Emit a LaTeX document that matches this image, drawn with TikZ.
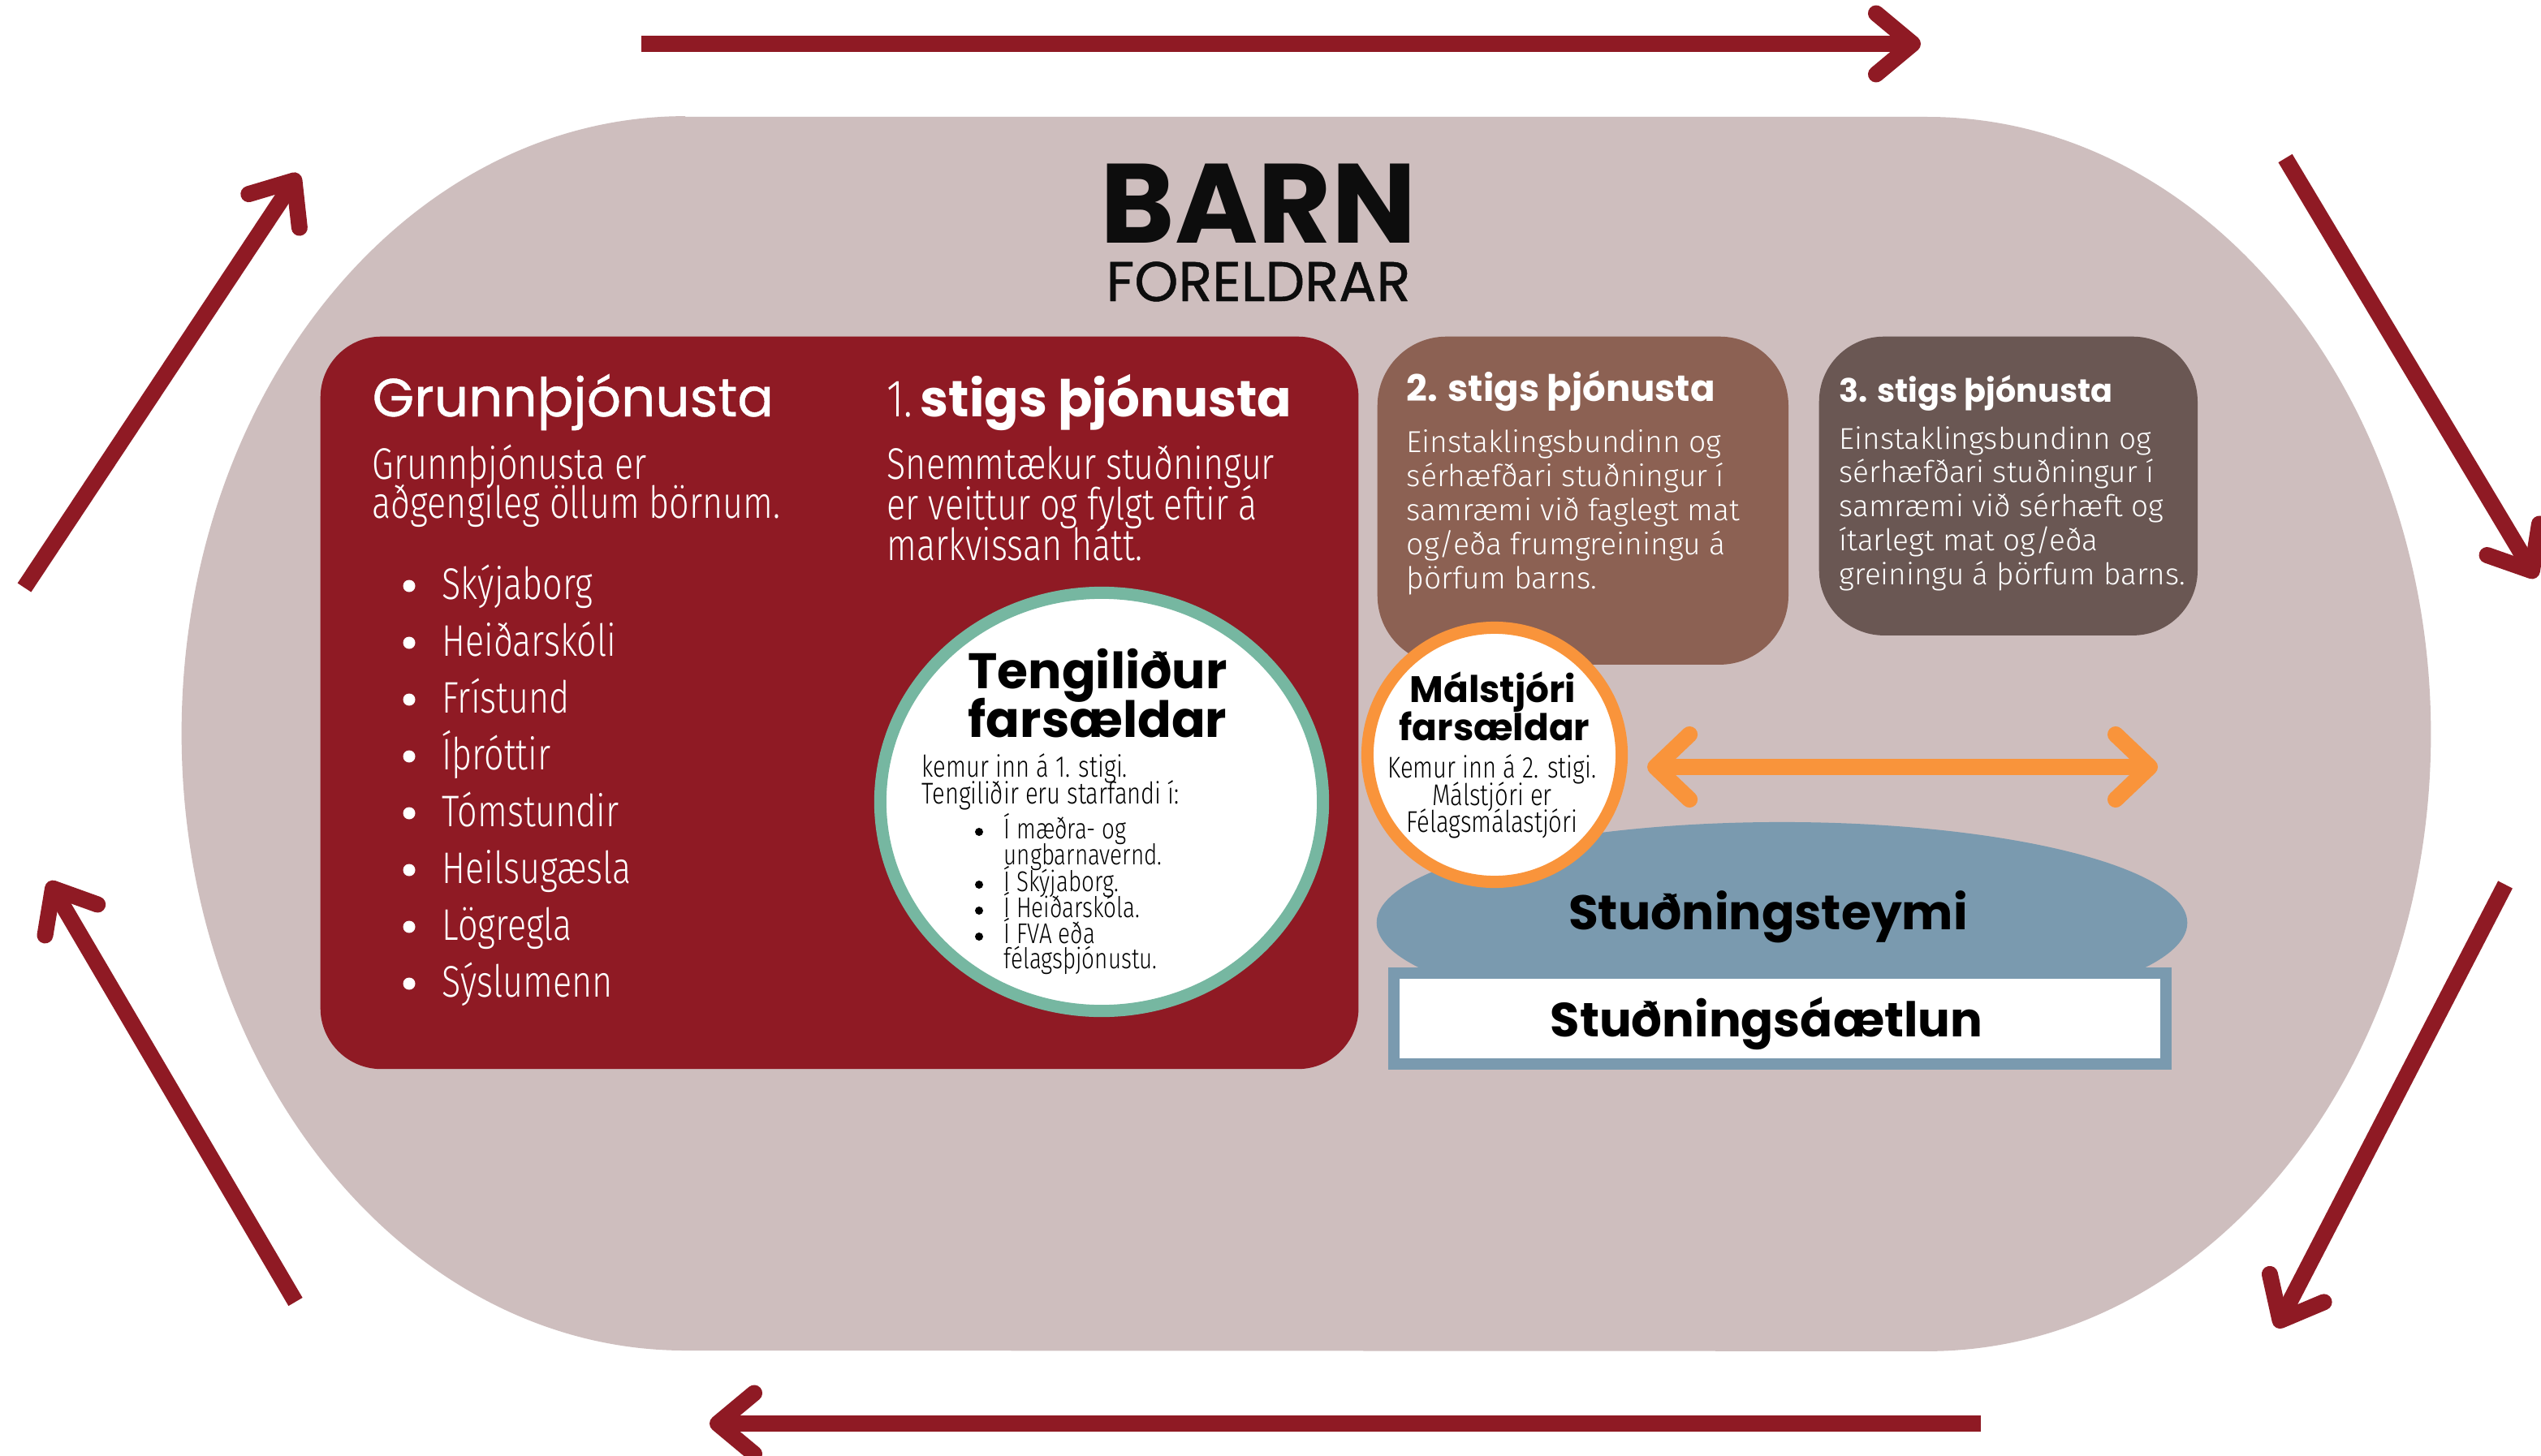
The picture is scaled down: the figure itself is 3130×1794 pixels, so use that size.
\documentclass[tikz,border=0pt]{standalone}
\usepackage{fontspec}
\setmainfont{Fira Sans}
\newfontfamily\cond{Fira Sans Light}[FakeStretch=0.79]
\newfontfamily\plainl{Fira Sans Light}
\newfontfamily\pop{Poppins}
\newfontfamily\popm{Poppins}[FakeBold=0.7]
\usetikzlibrary{arrows.meta,shapes.geometric}
\definecolor{bgc}{HTML}{CEBEBE}
\definecolor{redc}{HTML}{8F1A24}
\definecolor{brownc}{HTML}{8C6153}
\definecolor{darkc}{HTML}{6A5753}
\definecolor{tealc}{HTML}{76B7A1}
\definecolor{orangec}{HTML}{F9943B}
\definecolor{bluec}{HTML}{7A9AAF}
\tikzset{
  wtxt/.style={inner sep=0pt, anchor=base west, text=white, text height=0.72em, text depth=0.14em},
  btxt/.style={inner sep=0pt, anchor=base west, text=black, text height=0.72em, text depth=0.14em},
  ctxt/.style={inner sep=0pt, anchor=base, text=black, text height=0.72em, text depth=0.14em},
  panel/.style={inner sep=0pt, anchor=north west},
  redarrow/.style={draw=redc, line width=0.2cm, -{Straight Barb[length=0.45cm,width=0.75cm,round]}},
  wbul/.style={circle, fill=white, inner sep=0pt, minimum size=0.15cm},
  bbul/.style={circle, fill=black, inner sep=0pt, minimum size=0.1cm},
}
\begin{document}
\begin{tikzpicture}[x=0.01cm,y=-0.01cm]
\useasboundingbox (0,0) rectangle (3130,1794);
\fill[white] (0,0) rectangle (3130,1794);

% background stadium
\fill[bgc] (844,144) -- (2374,144) arc[start angle=90,end angle=-90,x radius=6.2cm,y radius=7.6cm]
  -- (844,1664) arc[start angle=270,end angle=90,x radius=6.2cm,y radius=7.6cm] -- cycle;

% cycle arrows
\coordinate (a1s) at (790,54);   \coordinate (a1e) at (2366,54);
\coordinate (a2s) at (2815,195); \coordinate (a2e) at (3124,712);
\coordinate (a3s) at (3086,1090);\coordinate (a3e) at (2804,1636);
\coordinate (a4s) at (2440,1754);\coordinate (a4e) at (874,1754);
\coordinate (a5s) at (364,1604); \coordinate (a5e) at (60,1086);
\coordinate (a6s) at (30,724);   \coordinate (a6e) at (368,214);
\draw[redarrow] (a1s) -- (a1e);
\draw[redarrow] (a2s) -- (a2e);
\draw[redarrow] (a3s) -- (a3e);
\draw[redarrow] (a4s) -- (a4e);
\draw[redarrow] (a5s) -- (a5e);
\draw[redarrow] (a6s) -- (a6e);

% title
\node[ctxt, text depth=0pt, font={\pop\bfseries\fontsize{39.5}{39.5}\selectfont}, text={black!95}] (barn) at (1550,300) {BARN};
\node[ctxt, font={\popm\fontsize{19.6}{19.6}\selectfont}, text={black!95}] (foreldrar) at (1550,371) {FORELDRAR};

% panels
\node[panel, fill=redc, rounded corners=0.75cm, minimum width=12.78cm, minimum height=9.02cm] (box1) at (394,414) {};
\node[panel, fill=brownc, rounded corners=0.85cm, minimum width=5.06cm, minimum height=4.04cm] (box2) at (1696,414) {};
\node[panel, fill=darkc, rounded corners=0.8cm, minimum width=4.66cm, minimum height=3.68cm] (box3) at (2240,414) {};

% box 1, column 1
\node[wtxt, font={\popm\fontsize{18.8}{18.8}\selectfont}] (g1head) at (458,513) {Grunnþjónusta};
\node[wtxt, font={\cond\fontsize{15.5}{15.5}\selectfont}] (g1l1) at (458,590) {Grunnþjónusta er};
\node[wtxt, font={\cond\fontsize{15.5}{15.5}\selectfont}] (g1l2) at (458,638) {aðgengileg öllum börnum.};
\foreach \t [count=\i from 0] in {Skýjaborg, Heiðarskóli, Frístund, Íþróttir, Tómstundir, Heilsugæsla, Lögregla, Sýslumenn}{
  \node[wbul] (gb\i) at (504,722+70*\i) {};
  \node[wtxt, font={\cond\fontsize{15.5}{15.5}\selectfont}] (gi\i) at (544,738+70*\i) {\t};
}

% box 1, column 2
\node[wtxt, font={\cond\fontsize{18.5}{18.5}\selectfont}] (s1num) at (1092,513) {1.};
\node[wtxt, font={\pop\bfseries\fontsize{17.8}{17.8}\selectfont}] (s1head) at (1133,513) {stigs þjónusta};
\node[wtxt, font={\cond\fontsize{15.5}{15.5}\selectfont}] (s1l1) at (1092,590) {Snemmtækur stuðningur};
\node[wtxt, font={\cond\fontsize{15.5}{15.5}\selectfont}] (s1l2) at (1092,640) {er veittur og fylgt eftir á};
\node[wtxt, font={\cond\fontsize{15.5}{15.5}\selectfont}] (s1l3) at (1092,690) {markvissan hátt.};

% box 2
\node[wtxt, font={\pop\bfseries\fontsize{12.8}{12.8}\selectfont}] (s2head) at (1732,494) {2. stigs þjónusta};
\foreach \t [count=\i from 0] in {Einstaklingsbundinn og, sérhæfðari stuðningur í, samræmi við faglegt mat, og/eða frumgreiningu á, þörfum barns.}{
  \node[wtxt, font={\plainl\fontsize{10.6}{10.6}\selectfont}] (s2l\i) at (1732,557+42.2*\i) {\t};
}

% box 3
\node[wtxt, font={\pop\bfseries\fontsize{11.3}{11.3}\selectfont}] (s3head) at (2265,495) {3. stigs þjónusta};
\foreach \t [count=\i from 0] in {Einstaklingsbundinn og, sérhæfðari stuðningur í, samræmi við sérhæft og, ítarlegt mat og/eða, greiningu á þörfum barns.}{
  \node[wtxt, font={\plainl\fontsize{10.5}{10.5}\selectfont}] (s3l\i) at (2265,553+41.8*\i) {\t};
}

% Tengiliður circle
\node[ellipse, draw=tealc, fill=white, line width=0.15cm, minimum width=5.45cm, minimum height=5.15cm, inner sep=0pt] (teng) at (1357,988) {};
\node[ctxt, font={\pop\bfseries\fontsize{17.5}{17.5}\selectfont}] (tengh1) at (1352,848) {Tengiliður};
\node[ctxt, font={\pop\bfseries\fontsize{17.5}{17.5}\selectfont}] (tengh2) at (1352,908) {farsældar};
\node[btxt, font={\cond\fontsize{10.5}{10.5}\selectfont}] (tengl1) at (1135,957) {kemur inn á 1. stigi.};
\node[btxt, font={\cond\fontsize{10.5}{10.5}\selectfont}] (tengl2) at (1135,990) {Tengiliðir eru starfandi í:};
\node[bbul] (tb1) at (1206,1025) {};
\node[bbul] (tb2) at (1206,1090) {};
\node[bbul] (tb3) at (1206,1122) {};
\node[bbul] (tb4) at (1206,1154) {};
\node[btxt, font={\cond\fontsize{10}{10}\selectfont}] (ti1) at (1236,1033) {Í mæðra- og};
\node[btxt, font={\cond\fontsize{10}{10}\selectfont}] (ti1b) at (1236,1065) {ungbarnavernd.};
\node[btxt, font={\cond\fontsize{10}{10}\selectfont}] (ti2) at (1236,1098) {Í Skýjaborg.};
\node[btxt, font={\cond\fontsize{10}{10}\selectfont}] (ti3) at (1236,1130) {Í Heiðarskóla.};
\node[btxt, font={\cond\fontsize{10}{10}\selectfont}] (ti4) at (1236,1162) {Í FVA eða};
\node[btxt, font={\cond\fontsize{10}{10}\selectfont}] (ti4b) at (1236,1193) {félagsþjónustu.};

% Stuðningsteymi and Stuðningsáætlun
\node[ellipse, fill=bluec, minimum width=9.98cm, minimum height=2.48cm, inner sep=0pt] (teymi) at (2195,1137) {};
\node[rectangle, draw=bluec, fill=white, line width=0.14cm, minimum width=9.51cm, minimum height=1.12cm, inner sep=0pt] (plan) at (2192.5,1255) {};
\node[ctxt, font={\pop\bfseries\fontsize{17}{17}\selectfont}] (teymitxt) at (2178,1145) {Stuðningsteymi};
\node[ctxt, font={\pop\bfseries\fontsize{16.8}{16.8}\selectfont}] (plantxt) at (2176,1277) {Stuðningsáætlun};

% Málstjóri circle
\node[circle, draw=orangec, fill=white, line width=0.15cm, minimum size=3.13cm, inner sep=0pt] (mal) at (1841,930) {};
\node[ctxt, font={\pop\bfseries\fontsize{12.9}{12.9}\selectfont}] (malh1) at (1839,865) {Málstjóri};
\node[ctxt, font={\pop\bfseries\fontsize{12.9}{12.9}\selectfont}] (malh2) at (1841,912) {farsældar};
\node[ctxt, font={\cond\fontsize{10.5}{10.5}\selectfont}] (mall1) at (1838,958) {Kemur inn á 2. stigi.};
\node[ctxt, font={\cond\fontsize{10.5}{10.5}\selectfont}] (mall2) at (1838,992) {Málstjóri er};
\node[ctxt, font={\cond\fontsize{10.5}{10.5}\selectfont}] (mall3) at (1838,1025) {Félagsmálastjóri};

% orange double arrow
\coordinate (oR) at (2658,945);
\draw[draw=orangec, line width=0.2cm, {Straight Barb[length=0.42cm,width=0.8cm,round]}-{Straight Barb[length=0.42cm,width=0.8cm,round]}] ([shift={(24,15)}]mal.east) -- (oR);
\end{tikzpicture}
\end{document}
